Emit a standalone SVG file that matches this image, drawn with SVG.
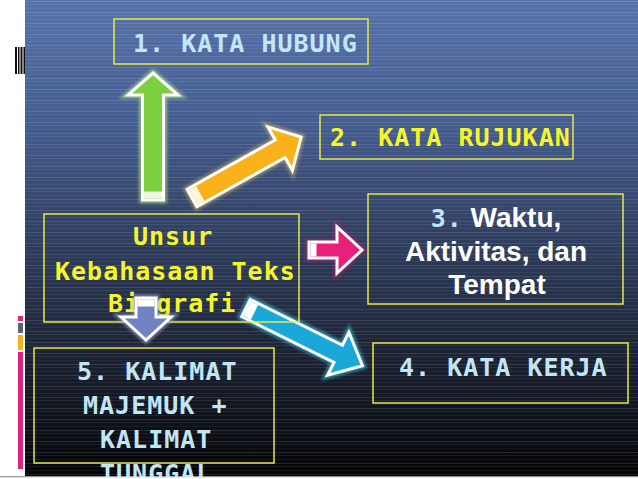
<svg xmlns="http://www.w3.org/2000/svg" width="638" height="479" viewBox="0 0 638 479">
<defs>
<linearGradient id="bg" x1="0" y1="0" x2="0" y2="1">
<stop offset="0" stop-color="#5873aa"/>
<stop offset="0.25" stop-color="#455e91"/>
<stop offset="0.5" stop-color="#303f60"/>
<stop offset="0.75" stop-color="#1b2232"/>
<stop offset="1" stop-color="#040506"/>
</linearGradient>
<pattern id="lines" width="40" height="11" patternUnits="userSpaceOnUse">
<rect x="0" y="1" width="40" height="1" fill="#ffffff" opacity="0.12"/>
<rect x="0" y="4" width="40" height="1" fill="#ffffff" opacity="0.08"/>
<rect x="0" y="8" width="40" height="1" fill="#ffffff" opacity="0.05"/>
</pattern>
<filter id="glow" x="-30%" y="-30%" width="160%" height="160%">
<feGaussianBlur stdDeviation="1.5"/>
</filter>
<style>
.box{fill:none;stroke:#e8e84a;stroke-width:1.5}
.mono{font-family:"DejaVu Sans Mono","Liberation Mono",monospace;font-weight:bold;font-size:25px;letter-spacing:1px}
.yel{fill:#f5f528}
.blu{fill:#c2e6f6}
.sans{font-family:"Liberation Sans",Arial,sans-serif;font-weight:bold;font-size:28px;fill:#ffffff}
.arrow{stroke:#ffffff;stroke-width:3;stroke-linejoin:miter}
.halo{stroke-width:7;fill:none;opacity:0.6;filter:url(#glow)}
</style>
</defs>
<rect x="0" y="0" width="638" height="479" fill="#ffffff"/>
<rect x="25" y="0" width="613" height="476" fill="url(#bg)"/>
<rect x="25" y="0" width="613" height="476" fill="url(#lines)"/>
<rect x="0" y="476" width="638" height="1.5" fill="#9a9a9a"/>
<g id="barcode" fill="#111">
<rect x="15" y="47" width="2" height="27"/>
<rect x="18" y="47" width="1.5" height="27"/>
<rect x="20.5" y="47" width="2" height="27"/>
<rect x="23.5" y="47" width="1.5" height="27"/>
</g>
<g id="colorstrip">
<rect x="18" y="316" width="5" height="5" fill="#d8257e"/>
<rect x="18" y="323" width="5" height="10" fill="#5d6478"/>
<rect x="18" y="335" width="5" height="15" fill="#f2b21e"/>
<rect x="18" y="352" width="5" height="117" fill="#d8257e"/>
</g>

<g id="connectors">
<g id="arrow-up" transform="translate(153,200) rotate(-90)">
<polygon class="halo" stroke="#b4f07a" points="0,-10.5 105,-10.5 105,-25 127,0 105,25 105,10.5 0,10.5"/>
<polygon class="arrow" fill="#7ccf3e" points="0,-10.5 105,-10.5 105,-25 127,0 105,25 105,10.5 0,10.5"/>
<rect x="1.5" y="-9" width="7" height="18" fill="#eef8e0"/>
</g>
<g id="arrow-orange" transform="translate(192,198) rotate(-29.2)">
<polygon class="halo" stroke="#c8b060" points="0,-10 101,-10 101,-25 125,0 101,25 101,10 0,10"/>
<polygon class="arrow" fill="#f9b21a" points="0,-10 101,-10 101,-25 125,0 101,25 101,10 0,10"/>
<rect x="1.5" y="-8.5" width="8" height="17" fill="#fff4dc"/>
</g>
<g id="arrow-pink" transform="translate(309,250)">
<polygon class="halo" stroke="#b0206a" points="0,-8 28,-8 28,-23 53,0 28,23 28,8 0,8"/>
<polygon class="arrow" fill="#e8207a" points="0,-8 28,-8 28,-23 53,0 28,23 28,8 0,8"/>
<rect x="1.5" y="-6.5" width="6" height="13" fill="#ffffff"/>
</g>
<g id="arrow-blue" transform="translate(246,308) rotate(26.4)">
<polygon class="halo" stroke="#40d0f0" points="0,-9.5 103,-9.5 103,-24 130,0 103,24 103,9.5 0,9.5"/>
<polygon class="arrow" fill="#1aa8d8" points="0,-9.5 103,-9.5 103,-24 130,0 103,24 103,9.5 0,9.5"/>
<rect x="1.5" y="-8" width="8" height="16" fill="#ffffff"/>
</g>
</g>

<g id="n1">
<rect class="box" x="114" y="19" width="254" height="45"/>
<text class="mono blu" x="133" y="52">1. KATA HUBUNG</text>
</g>
<g id="n2">
<rect class="box" x="320" y="115" width="253" height="44"/>
<text class="mono yel" x="330" y="146">2. KATA RUJUKAN</text>
</g>
<g id="n3">
<rect class="box" x="368" y="194" width="255" height="110"/>
<text x="496" y="227" text-anchor="middle"><tspan class="mono blu" font-weight="normal">3.</tspan><tspan class="sans"> Waktu,</tspan></text>
<text class="sans" x="496" y="261" text-anchor="middle">Aktivitas, dan</text>
<text class="sans" x="497" y="294" text-anchor="middle">Tempat</text>
</g>
<g id="n0">
<rect class="box" x="44" y="214" width="255" height="108"/>
<text class="mono yel" x="133" y="245">Unsur</text>
<text class="mono yel" x="55" y="280">Kebahasaan Teks</text>
<text class="mono yel" x="108" y="312">Biografi</text>
</g>
<g id="n4">
<rect class="box" x="373" y="343" width="255" height="60"/>
<text class="mono blu" x="399" y="376">4. KATA KERJA</text>
</g>
<g id="n5">
<rect class="box" x="34" y="348" width="240" height="115"/>
<text class="mono blu" x="77" y="380">5. KALIMAT</text>
<text class="mono blu" x="83" y="414">MAJEMUK +</text>
<text class="mono blu" x="100" y="448">KALIMAT</text>
<text class="mono blu" x="100" y="482">TUNGGAL</text>
</g>
<g id="arrow-down" transform="translate(146,298) rotate(90)">
<polygon class="halo" stroke="#a0b0e0" points="0,-10 19,-10 19,-25 42,0 19,25 19,10 0,10"/>
<polygon class="arrow" fill="#7283c2" points="0,-10 19,-10 19,-25 42,0 19,25 19,10 0,10"/>
<rect x="1.5" y="-8.5" width="7" height="17" fill="#ffffff"/>
</g>
<rect x="0" y="477.5" width="638" height="2" fill="#ffffff"/>
</svg>
